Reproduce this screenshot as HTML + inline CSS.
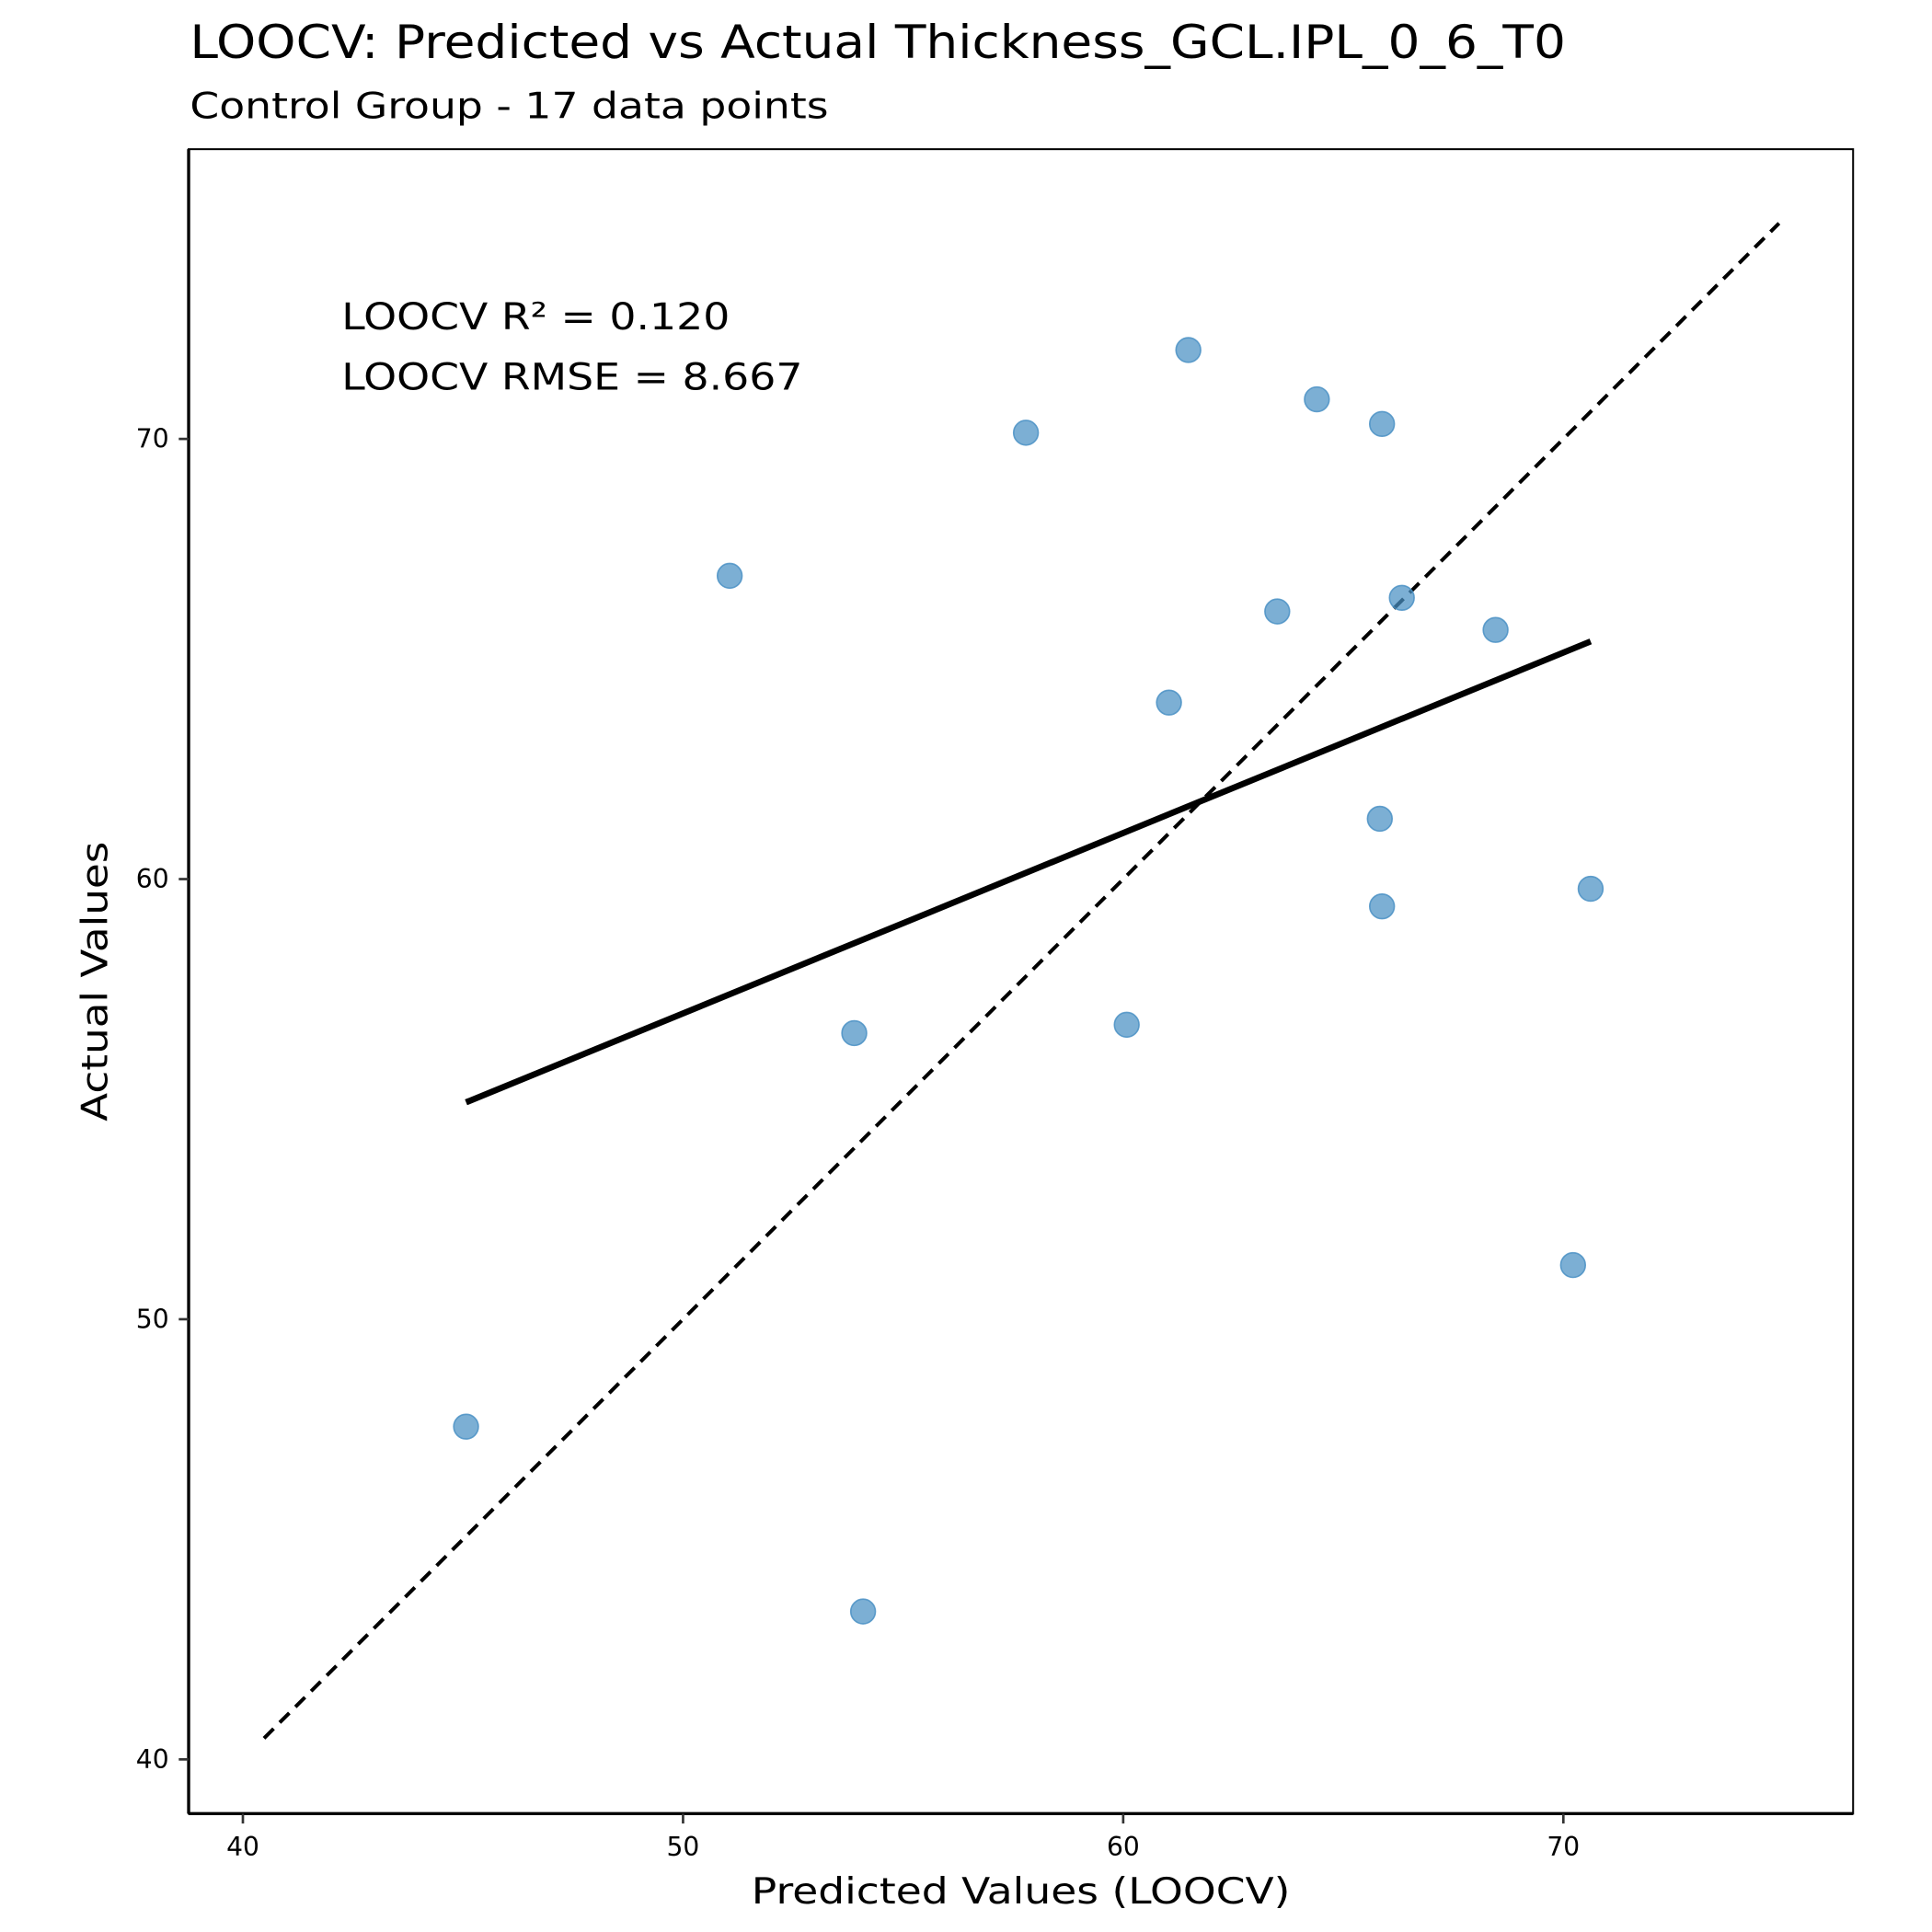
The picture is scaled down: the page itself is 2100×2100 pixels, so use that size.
<!DOCTYPE html>
<html><head><meta charset="utf-8"><style>
html,body{margin:0;padding:0;background:#fff;}
svg{display:block;font-family:"DejaVu Sans","Liberation Sans",sans-serif;}
</style></head><body>
<svg id="chart" width="2100" height="2100" viewBox="0 0 1567 1567" xmlns="http://www.w3.org/2000/svg">
<rect width="1567" height="1567" fill="#fff"/>
<text x="154" y="47" font-size="37" textLength="1116" lengthAdjust="spacingAndGlyphs">LOOCV: Predicted vs Actual Thickness_GCL.IPL_0_6_T0</text>
<text x="154" y="96" font-size="29" textLength="518" lengthAdjust="spacingAndGlyphs">Control Group - 17 data points</text>
<g id="plot"></g>
<rect x="153" y="121" width="1350" height="1350" fill="none" stroke="#000" stroke-width="1.5"/>
<line x1="153" y1="1471" x2="1503" y2="1471" stroke="#000" stroke-width="2.5"/>
<line x1="153" y1="121" x2="153" y2="1471" stroke="#000" stroke-width="2.5"/>
<text x="277" y="267" font-size="30" textLength="315" lengthAdjust="spacingAndGlyphs">LOOCV R² = 0.120</text>
<text x="277" y="316" font-size="30" textLength="374" lengthAdjust="spacingAndGlyphs">LOOCV RMSE = 8.667</text>
<text x="828" y="1544" font-size="29" text-anchor="middle" textLength="437" lengthAdjust="spacingAndGlyphs">Predicted Values (LOOCV)</text>
<text transform="translate(87,796) rotate(-90)" font-size="29" text-anchor="middle" textLength="227" lengthAdjust="spacingAndGlyphs">Actual Values</text>
</svg>
<script>
const predicted=[45.07,51.06,53.89,54.09,57.79,60.08,61.04,61.48,63.50,64.40,65.83,65.88,65.88,66.33,68.46,70.22,70.62];
const actual=[47.56,66.89,56.50,43.36,70.14,56.69,64.01,72.02,66.08,70.90,61.37,59.38,70.34,66.39,65.66,51.23,59.78];
const xTicks=[40,50,60,70];
const yTicks=[40,50,60,70];
const identityRange=[40.48,74.9];
const ns="http://www.w3.org/2000/svg";
const X=v=>197+(v-40)*35.7;
const Y=v=>1427-(v-40)*35.7;
const g=document.getElementById('plot');
const svg=document.getElementById('chart');
function mk(t,a,p){const e=document.createElementNS(ns,t);for(const k in a)e.setAttribute(k,a[k]);(p||g).appendChild(e);return e;}
const id=mk('line',{x1:X(identityRange[0]),y1:Y(identityRange[0]),x2:X(identityRange[1]),y2:Y(identityRange[1]),stroke:'#000','stroke-width':3,'stroke-dasharray':'11,7'});


predicted.forEach((p,i)=>{
 const c=mk('circle',{cx:X(p),cy:Y(actual[i]),r:10,fill:'#4a90c4','fill-opacity':0.72,stroke:'#4a90c4','stroke-opacity':0.85,'stroke-width':1.2});
 
 
});
const n=predicted.length;
const mx=predicted.reduce((a,b)=>a+b)/n,my=actual.reduce((a,b)=>a+b)/n;
let sxy=0,sxx=0;predicted.forEach((p,i)=>{sxy+=(p-mx)*(actual[i]-my);sxx+=(p-mx)*(p-mx);});
const b=sxy/sxx,a0=my-b*mx;
const xmin=Math.min(...predicted),xmax=Math.max(...predicted);
const reg=mk('line',{x1:X(xmin),y1:Y(a0+b*xmin),x2:X(xmax),y2:Y(a0+b*xmax),stroke:'#000','stroke-width':5});


xTicks.forEach(t=>{
 const l=mk('line',{x1:X(t),y1:1471,x2:X(t),y2:1479,stroke:'#333','stroke-width':2},svg);
 
 
 const tx=mk('text',{x:X(t),y:1505,'font-size':21,'text-anchor':'middle'},svg);
 tx.textContent=t;
 
 
});
yTicks.forEach(t=>{
 const l=mk('line',{x1:145,y1:Y(t),x2:153,y2:Y(t),stroke:'#333','stroke-width':2},svg);
 
 
 const tx=mk('text',{x:137,y:Y(t)+7,'font-size':21,'text-anchor':'end'},svg);
 tx.textContent=t;
 
 
});
</script>
</body></html>
